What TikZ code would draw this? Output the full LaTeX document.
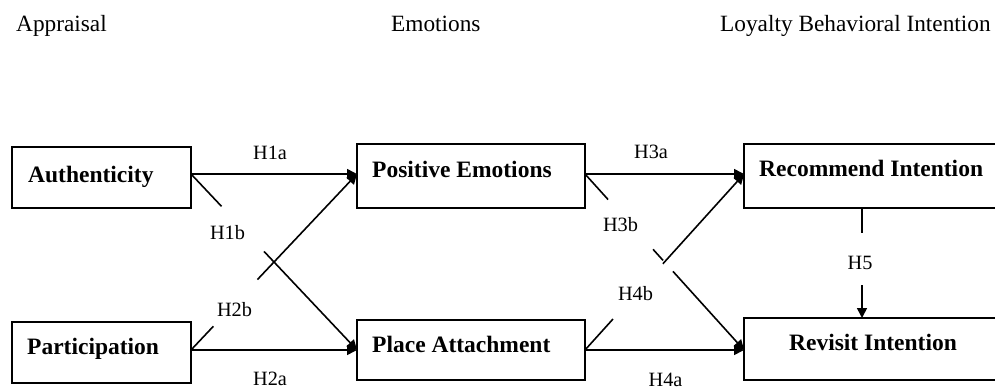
\documentclass[tikz,border=0pt]{standalone}
\usepackage{fontspec}
\setmainfont{Liberation Serif}
\usetikzlibrary{arrows.meta,calc}
\begin{document}
\begin{tikzpicture}[x=1pt,y=-1pt,
  box/.style={draw, line width=1.8pt, inner sep=0pt, outer sep=0pt},
  link/.style={line width=1.6pt},
  tip/.style={-{Triangle[length=10pt,width=10pt]}},
  hyp/.style={font=\fontsize{20.3}{24}\selectfont, inner sep=0pt},
  head/.style={font=\fontsize{23.3}{28}\selectfont, inner sep=0pt},
  nametext/.style={font=\bfseries\fontsize{23.5}{28}\selectfont, inner sep=0pt}]
\useasboundingbox (0,0) rectangle (995,389);
\clip (0,0) rectangle (995,389);

% headers
\node[head, anchor=base west] (hA) at (16,31) {Appraisal};
\node[head, anchor=base west] (hE) at (391,31) {Emotions};
\node[head, anchor=base west] (hL) at (720,31) {Loyalty Behavioral Intention};

% boxes
\node[box, minimum width=179pt, minimum height=61pt] (auth) at (101.5,177.5) {};
\node[box, minimum width=179pt, minimum height=61pt] (part) at (101.5,352.5) {};
\node[box, minimum width=228pt, minimum height=64pt] (pe) at (471,176) {};
\node[box, minimum width=228pt, minimum height=60pt] (pa) at (471,350) {};
\node[box, minimum width=253pt, minimum height=64pt] (ri) at (870.5,176) {};
\node[box, minimum width=253pt, minimum height=62pt] (rv) at (870.5,349) {};

% box texts
\node[nametext, anchor=base west] (authT) at (28,182) {Authenticity};
\node[nametext, anchor=base west] (partT) at (27,354) {Participation};
\node[nametext, anchor=base west] (peT) at (372,177) {Positive Emotions};
\node[nametext, anchor=base west] (paT) at (372,352) {Place Attachment};
\node[nametext, anchor=base west] (riT) at (759,176) {Recommend Intention};
\node[nametext, anchor=base] (rvT) at (873,350) {Revisit Intention};

% connector end points
\coordinate (aE) at ([yshift=3.5pt]auth.east);
\coordinate (pE) at ([yshift=2.5pt]part.east);
\coordinate (peW) at ([yshift=2pt]pe.west);
\coordinate (paW) at (pa.west);
\coordinate (peE) at ([yshift=2pt]pe.east);
\coordinate (paE) at (pa.east);
\coordinate (riW) at ([yshift=2pt]ri.west);
\coordinate (rvW) at ([yshift=-1pt]rv.west);
\coordinate (riS) at ([xshift=-8.5pt]ri.south);
\coordinate (rvN) at ([xshift=-8.5pt]rv.north);

% H1a, H2a, H3a, H4a
\draw[link, tip] (aE) -- (peW);
\draw[link, tip] (pE) -- (paW);
\draw[link, tip] (peE) -- (riW);
\draw[link, tip] (paE) -- (rvW);

% H1b
\draw[link] (aE) -- ($(aE)!0.184!(paW)$);
\draw[link, tip] ($(aE)!0.44!(paW)$) -- (paW);
% H2b
\draw[link] (pE) -- ($(pE)!0.135!(peW)$);
\draw[link, tip] ($(pE)!0.40!(peW)$) -- (peW);
% H3b
\draw[link] (peE) -- ($(peE)!0.145!(rvW)$);
\draw[link] ($(peE)!0.428!(rvW)$) -- ($(peE)!0.491!(rvW)$);
\draw[link, tip] ($(peE)!0.553!(rvW)$) -- (rvW);
% H4b
\draw[link] (paE) -- ($(paE)!0.176!(riW)$);
\draw[link, tip] ($(paE)!0.49!(riW)$) -- (riW);
% H5
\draw[link] (riS) -- ($(riS)!0.227!(rvN)$);
\draw[link, tip] ($(riS)!0.70!(rvN)$) -- (rvN);

% hypothesis labels
\node[hyp] (l1a) at (270,153) {H1a};
\node[hyp] (l1b) at (227.5,233) {H1b};
\node[hyp] (l2b) at (234.5,310) {H2b};
\node[hyp] (l2a) at (270,379) {H2a};
\node[hyp] (l3a) at (651,152) {H3a};
\node[hyp] (l3b) at (620.5,224.5) {H3b};
\node[hyp] (l4b) at (635.5,294) {H4b};
\node[hyp] (l4a) at (665.5,380) {H4a};
\node[hyp] (l5) at (860,262.5) {H5};
\end{tikzpicture}
\end{document}
